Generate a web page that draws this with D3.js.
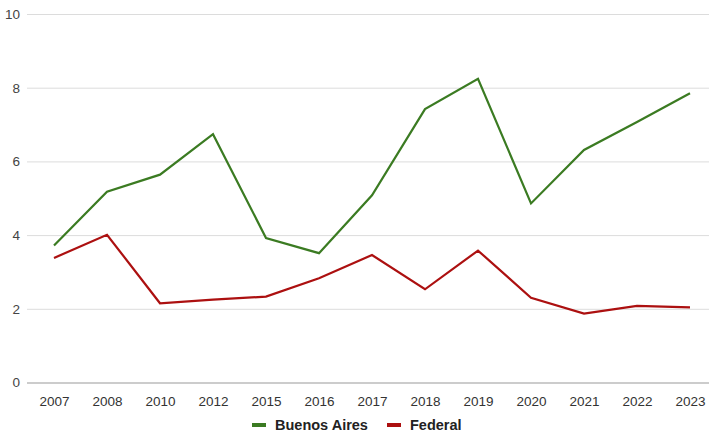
<!DOCTYPE html>
<html>
<head>
<meta charset="utf-8">
<script src="https://cdn.jsdelivr.net/npm/d3@7/dist/d3.min.js"></script>
<style>
  html, body { margin: 0; padding: 0; background: #fff; }
  svg { display: block; font-family: "Liberation Sans", Arial, sans-serif; }
</style>
</head>
<body>
<svg id="chart" width="709" height="435"></svg>
<script>
const years = ["2007","2008","2010","2012","2015","2016","2017","2018","2019","2020","2021","2022","2023"];
const buenosAires = [3.72, 5.18, 5.64, 6.74, 3.92, 3.51, 5.08, 7.42, 8.24, 4.86, 6.31, 7.07, 7.85];
const federal = [3.38, 4.01, 2.15, 2.25, 2.33, 2.83, 3.46, 2.53, 3.58, 2.3, 1.87, 2.08, 2.04];
const yTicks = [0, 2, 4, 6, 8, 10];
const seriesNames = ["Buenos Aires", "Federal"];
const seriesColors = ["#3b7b22", "#ac1010"];

const svg = d3.select("#chart");
const plotLeft = 27, plotRight = 709;

const x = d3.scalePoint().domain(years).range([54, 690]);
const y = d3.scaleLinear().domain([0, 10]).range([382.5, 14]);

// horizontal gridlines with value labels
const yAxis = d3.axisLeft(y).tickValues(yTicks).tickSize(-(plotRight - plotLeft)).tickPadding(8).tickFormat(d3.format("d"));
const gy = svg.append("g").attr("transform", `translate(${plotLeft},0)`).call(yAxis);
gy.select(".domain").remove();
gy.selectAll(".tick line").attr("stroke", d => d === 0 ? "#9a9a9a" : "#dcdcdc").attr("stroke-width", d => d === 0 ? 1.2 : 1);
gy.selectAll(".tick text").attr("fill", "#444").attr("font-size", 13.5).attr("x", -7);

// year labels
const xAxis = d3.axisBottom(x).tickSize(0).tickPadding(14);
const gx = svg.append("g").attr("transform", `translate(0,${y(0)})`).call(xAxis);
gx.select(".domain").remove();
gx.selectAll(".tick text").attr("fill", "#333").attr("font-size", 13.5);

// series lines
const line = d3.line().x((d, i) => x(years[i])).y(d => y(d));
[buenosAires, federal].forEach((vals, k) => {
  svg.append("path")
    .datum(vals)
    .attr("fill", "none")
    .attr("stroke", seriesColors[k])
    .attr("stroke-width", 2.2)
    .attr("stroke-linejoin", "miter")
    .attr("d", line);
});

// legend
const legend = svg.append("g").attr("transform", "translate(252,425)");
const legendOffsets = [0, 135];
seriesNames.forEach((name, k) => {
  const g = legend.append("g").attr("transform", `translate(${legendOffsets[k]},0)`);
  g.append("rect").attr("x", 0).attr("y", -2).attr("width", 14).attr("height", 4).attr("fill", seriesColors[k]);
  g.append("text").attr("x", 23).attr("y", 5).attr("font-size", 14.5).attr("font-weight", "bold").attr("fill", "#222").text(name);
});
</script>
</body>
</html>
